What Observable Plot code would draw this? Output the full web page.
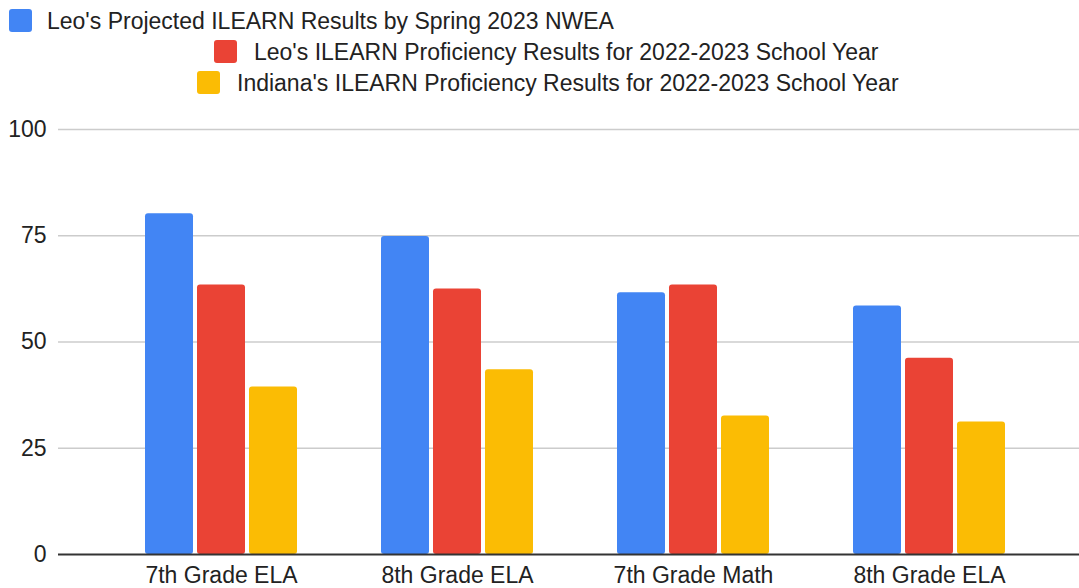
<!DOCTYPE html>
<html>
<head>
<meta charset="utf-8">
<script src="https://cdn.jsdelivr.net/npm/d3@7"></script>
<script src="https://cdn.jsdelivr.net/npm/@observablehq/plot@0.6"></script>
<style>
  html, body { margin: 0; padding: 0; background: #fff; }
  body { width: 1079px; height: 588px; overflow: hidden; font-family: Arial, "Liberation Sans", sans-serif; }
  #legend { position: relative; width: 1079px; height: 100px; }
  .sw { position: absolute; width: 23px; height: 23px; border-radius: 3px; }
  .lt { position: absolute; font-size: 23px; line-height: 24px; color: #222; white-space: nowrap; }
  #chart svg { display: block; }
</style>
</head>
<body>
<div id="legend"></div>
<div id="chart"></div>
<script>
const categories = ["7th Grade ELA", "8th Grade ELA", "7th Grade Math", "8th Grade ELA"];
const seriesNames = [
  "Leo's Projected ILEARN Results by Spring 2023 NWEA",
  "Leo's ILEARN Proficiency Results for 2022-2023 School Year",
  "Indiana's ILEARN Proficiency Results for 2022-2023 School Year"
];
const seriesColors = ["#4285f4", "#ea4335", "#fbbc04"];
const projected = [80.2, 74.8, 61.6, 58.5];
const leoActual = [63.4, 62.5, 63.4, 46.2];
const indiana = [39.4, 43.5, 32.6, 31.2];
const yTicks = [0, 25, 50, 75, 100];

const seriesValues = [projected, leoActual, indiana];

// Legend (Google-charts style wrapped layout)
const legendPos = [
  {sx: 9, sy: 9, tx: 47, ty: 9},
  {sx: 214, sy: 40, tx: 254, ty: 40},
  {sx: 197, sy: 71, tx: 237, ty: 71}
];
const legend = document.getElementById("legend");
seriesNames.forEach((name, k) => {
  const p = legendPos[k];
  const sw = document.createElement("div");
  sw.className = "sw";
  sw.style.left = p.sx + "px";
  sw.style.top = p.sy + "px";
  sw.style.background = seriesColors[k];
  legend.appendChild(sw);
  const t = document.createElement("div");
  t.className = "lt";
  t.style.left = p.tx + "px";
  t.style.top = p.ty + "px";
  t.textContent = name;
  legend.appendChild(t);
});

const rows = [];
seriesValues.forEach((vals, k) => {
  vals.forEach((v, i) => rows.push({i, series: k, value: v}));
});

const groupW = 152, barW = 48, gap = 4;
const barMarks = seriesValues.map((vals, k) => {
  const left = k * (barW + gap);
  const right = groupW - left - barW;
  return Plot.barY(rows.filter(d => d.series === k), {
    x: "i", y: "value", fill: seriesColors[k],
    insetLeft: left, insetRight: right, rx: 3
  });
});

const chart = Plot.plot({
  width: 1079,
  height: 488,
  marginTop: 29,
  marginBottom: 34,
  marginLeft: 58,
  marginRight: 0,
  style: {fontFamily: "Arial, 'Liberation Sans', sans-serif", fontSize: "23px", color: "#222", background: "#fff"},
  x: {domain: categories.map((_, i) => i), range: [144, 1006], paddingInner: 1 - 152 / 236.67, paddingOuter: 0, label: null},
  y: {domain: [0, 100], label: null},
  marks: [
    Plot.ruleY(yTicks.filter(t => t > 0), {stroke: "#ccc", strokeWidth: 1.5}),
    ...barMarks,
    Plot.ruleY([0], {stroke: "#333", strokeWidth: 2}),
    Plot.axisY({ticks: yTicks, tickSize: 0, tickPadding: 12, label: null, fill: "#222"}),
    Plot.axisX({tickSize: 0, tickPadding: 12, label: null, tickFormat: i => categories[i], fill: "#222"})
  ]
});
document.getElementById("chart").appendChild(chart);
</script>
</body>
</html>
